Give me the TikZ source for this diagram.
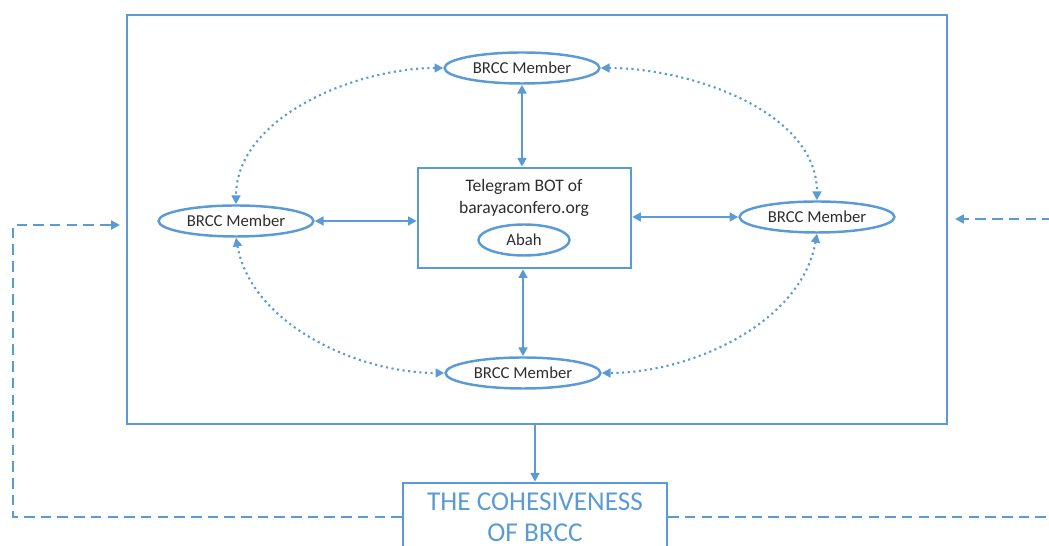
\documentclass[tikz,border=0pt]{standalone}
\usepackage{fontspec}
\setmainfont{Carlito}
\usetikzlibrary{arrows.meta,shapes.geometric}
\definecolor{officeblue}{RGB}{91,155,213}
\definecolor{inktext}{RGB}{45,45,45}
\tikzset{
  tip/.style={-{Triangle[length=5pt,width=5pt]}},
  twotip/.style={{Triangle[length=5pt,width=5pt]}-{Triangle[length=5pt,width=5pt]}},
  member/.style={ellipse,draw=officeblue,line width=1.4pt,minimum width=3.1cm,
    minimum height=0.62cm,inner sep=0pt,text=inktext,font=\fontsize{9.5}{11}\selectfont},
  link/.style={twotip,draw=officeblue,line width=1.3pt},
  ring/.style={twotip,draw=officeblue,line width=1.2pt,dotted,looseness=0.9},
  feedback/.style={tip,draw=officeblue,line width=1.3pt,dash pattern=on 6pt off 3.5pt},
}
\begin{document}
\begin{tikzpicture}[x=0.02cm,y=-0.02cm]
\useasboundingbox (0,0) rectangle (1049,546);
\clip (0,0) rectangle (1049,546);
% outer frame
\node[draw=officeblue,line width=1.5pt,minimum width=16.4cm,minimum height=8.18cm]
  (frame) at (537,219.5) {};
% bot in the middle
\node[draw=officeblue,line width=1.4pt,minimum width=4.26cm,minimum height=2cm]
  (bot) at (524.5,218) {};
\node[align=center,text=inktext,font=\fontsize{10}{12.5}\selectfont]
  (bottitle) at (524,198) {Telegram BOT of\\barayaconfero.org};
\node[member,minimum width=1.82cm] (abah) at (524,240) {Abah};
% members
\node[member] (top) at (522,68) {BRCC Member};
\node[member] (left) at (236,221) {BRCC Member};
\node[member] (right) at (817,217) {BRCC Member};
\node[member] (bottom) at (523,373) {BRCC Member};
\draw[link] (top) -- (top |- bot.north);
\draw[link] (bottom) -- (bottom |- bot.south);
\draw[link] (left) -- (left -| bot.west);
\draw[link] (right) -- (right -| bot.east);
\draw[ring] (top.west) to[out=180,in=90] (left.north);
\draw[ring] (left.south) to[out=-80,in=180] (bottom.west);
\draw[ring] (top.east) to[out=0,in=90] (right.north);
\draw[ring] (right.south) to[out=-100,in=0] (bottom.east);
% result
\node[draw=officeblue,line width=1.4pt,minimum width=5.28cm,minimum height=1.36cm,
  align=center,text=officeblue,font=\fontsize{15.5}{17.5}\selectfont]
  (result) at (535,517) {THE COHESIVENESS\\OF BRCC};
\draw[tip,draw=officeblue,line width=1.3pt] (frame.south -| result.north) -- (result.north);
\coordinate (lcorner) at (13,225);
\coordinate (lin) at (120,225);
\coordinate (rcorner) at (1062,219);
\coordinate (rin) at (955,219);
\draw[feedback] (result.west) -| (lcorner) -- (lin);
\draw[feedback] (result.east) -| (rcorner) -- (rin);
\end{tikzpicture}
\end{document}
